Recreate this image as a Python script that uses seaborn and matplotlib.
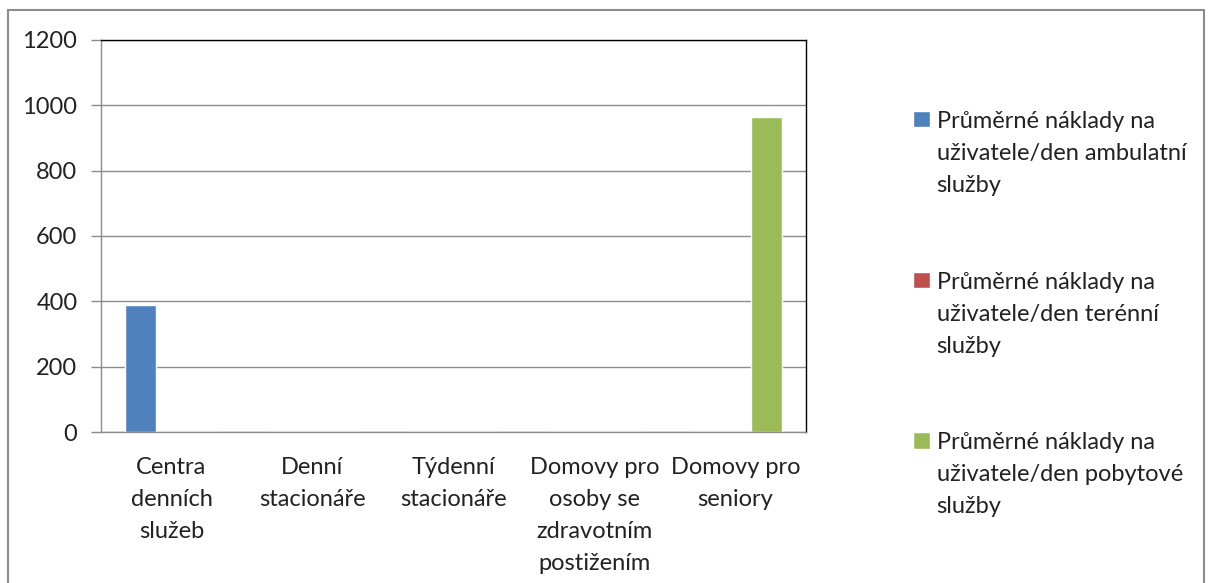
"""
    Průměrné náklady na uživatele/den podle typu služby
"""
import pandas as pd
import matplotlib.pyplot as plt
import seaborn as sns
from matplotlib.patches import Rectangle

# Data
kategorie = ['Centra\ndenních\nslužeb', 'Denní\nstacionáře', 'Týdenní\nstacionáře',
             'Domovy pro\nosoby se\nzdravotním\npostižením', 'Domovy pro\nseniory']
serie = ['Průměrné náklady na\nuživatele/den ambulatní\nslužby',
         'Průměrné náklady na\nuživatele/den terénní\nslužby',
         'Průměrné náklady na\nuživatele/den pobytové\nslužby']
ambulantni = [390, 0, 0, 0, 0]
terenni = [0, 0, 0, 0, 0]
pobytove = [0, 0, 0, 0, 965]
barvy = ['#4F81BD', '#C0504D', '#9BBB59']

df = pd.DataFrame({
    'kategorie': kategorie * 3,
    'serie': [serie[0]] * 5 + [serie[1]] * 5 + [serie[2]] * 5,
    'hodnota': ambulantni + terenni + pobytove,
})

sns.set_style('white')
plt.rcParams['font.family'] = ['Lato', 'DejaVu Sans']

fig = plt.figure(figsize=(12.08, 5.83), dpi=100)
ax = fig.add_axes([0.0836, 0.259, 0.5836, 0.6726])

sns.barplot(data=df, x='kategorie', y='hodnota', hue='serie', order=kategorie,
            hue_order=serie, palette=barvy, width=0.66, gap=0, saturation=1,
            errorbar=None, ax=ax)

ax.set_ylim(0, 1200)
ax.set_xlim(-0.5, 4.5)
ax.set_yticks(range(0, 1201, 200))
ax.yaxis.grid(True, color='#8c8c8c', linewidth=1)
ax.set_axisbelow(True)
ax.set_xlabel('')
ax.set_ylabel('')

# osa x: popisky ve středu, čárky na hranicích kategorií
ax.set_xticks(range(5))
ax.set_xticklabels(kategorie, fontsize=17, color='#222222', linespacing=1.65)
ax.set_xticks([i - 0.5 for i in range(6)], minor=True)
ax.tick_params(axis='x', which='major', length=0, pad=18)
ax.tick_params(axis='x', which='minor', length=7, width=1, color='#8c8c8c', direction='out')
ax.tick_params(axis='y', length=7, width=1, color='#8c8c8c', direction='out',
               labelsize=17, labelcolor='#222222', pad=10)
ax.tick_params(bottom=True, left=True)

for s in ['left', 'bottom']:
    ax.spines[s].set_color('#8c8c8c')
for s in ['top', 'right']:
    ax.spines[s].set_color('black')
for s in ax.spines.values():
    s.set_linewidth(1)

# legenda vpravo
handles, labels = ax.get_legend_handles_labels()
ax.get_legend().remove()
leg = fig.legend(handles, labels, loc='upper left', bbox_to_anchor=(0.746, 0.830),
                 frameon=False, fontsize=17, labelspacing=3.2, handlelength=0.7,
                 handleheight=0.7, handletextpad=0.3, borderpad=0, alignment='left')
for t in leg.get_texts():
    t.set_color('#222222')
    t.set_linespacing(1.65)
    t.set_multialignment('left')
for col in leg._legend_handle_box.get_children():
    for hp in col.get_children():
        hp.align = 'top'

# rámeček celého grafu
fig.patches.append(Rectangle((8 / 1208, -0.05), 1196 / 1208, 1.05 - 10 / 583,
                             transform=fig.transFigure, fill=False,
                             edgecolor='#8c8c8c', linewidth=1.5))

plt.savefig('out.png', dpi=100)
